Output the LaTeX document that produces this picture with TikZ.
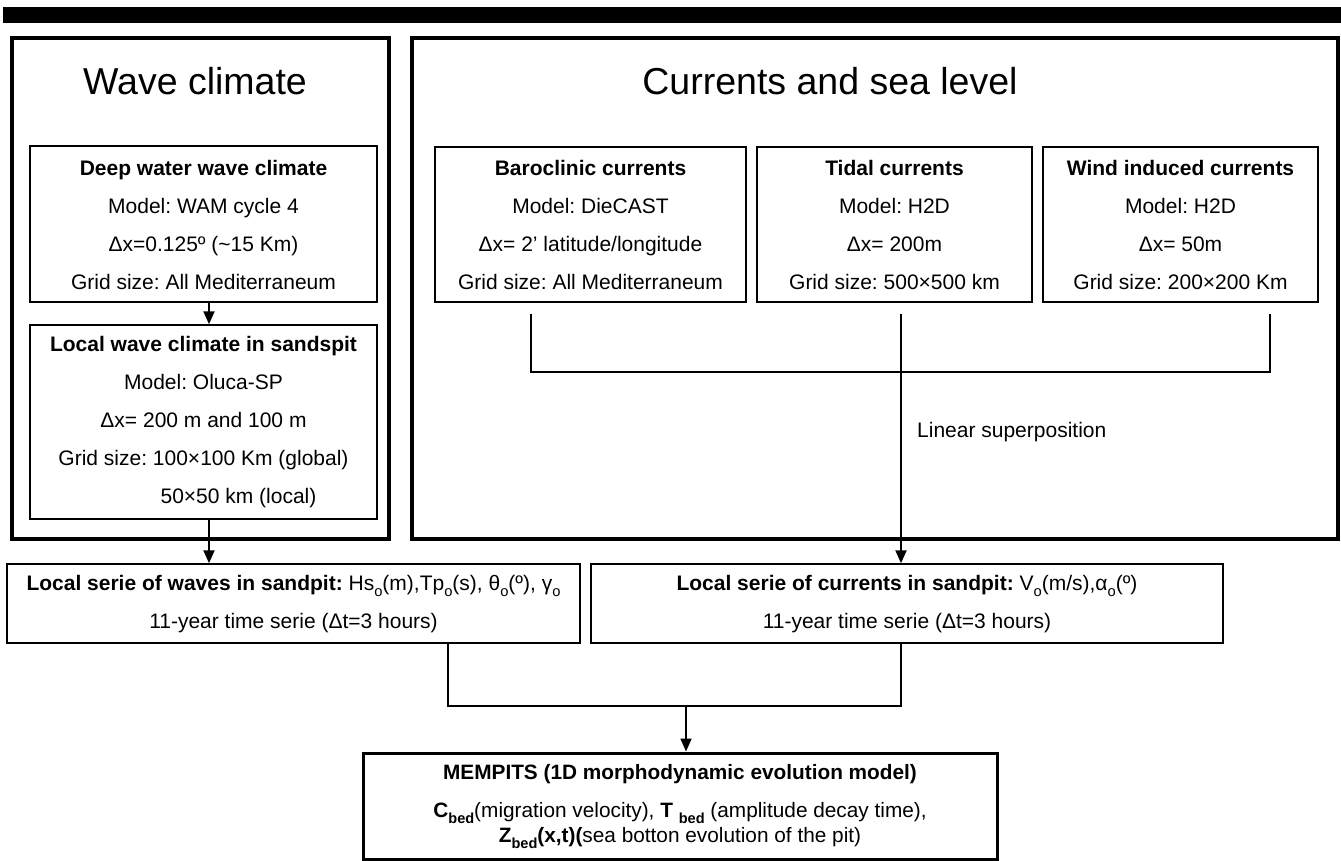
\documentclass[tikz,border=0pt]{standalone}
\usepackage{fontspec}
\setmainfont{Liberation Sans}
\usepackage{graphicx}
\usetikzlibrary{arrows.meta}
\newcommand\lsub[1]{\raisebox{-0.3em}{\scalebox{0.7}{#1}}}
\frenchspacing
\begin{document}
\begin{tikzpicture}[x=1pt,y=-1pt,
  outerbox/.style={draw, line width=4pt, inner sep=0pt},
  subbox/.style={draw, line width=1.5pt, inner sep=0pt},
  resbox/.style={draw, line width=3pt, inner sep=0pt},
  boxtxt/.style={inner sep=0pt, align=center, font={\fontsize{21}{38}\selectfont}},
  restxt/.style={inner sep=0pt, align=center, font={\fontsize{20.8}{25}\selectfont}},
  titletxt/.style={anchor=base, inner sep=0pt, font={\fontsize{37.5}{40}\selectfont}},
  lbl/.style={anchor=base west, inner sep=0pt, font={\fontsize{21}{25}\selectfont}},
  link/.style={line width=1.5pt},
  mainarr/.style={line width=2.2pt, -{Triangle[length=13pt,width=11pt]}},
  arr/.style={line width=1.8pt, -{Triangle[length=13pt,width=11pt]}}]
\useasboundingbox (0,0) rectangle (1341,861);
% top bar
\fill[black] (2.7,7) rectangle (1341,22.7);
% outer frames
\node[outerbox, minimum width=377pt, minimum height=501pt] (wframe) at (200.5,288.5) {};
\node[outerbox, minimum width=926pt, minimum height=501pt] (cframe) at (875,288.5) {};
\node[titletxt] (wtitle) at (195,95) {Wave climate};
\node[titletxt] (ctitle) at (830,95) {Currents and sea level};
% wave climate boxes
\node[subbox, minimum width=347pt, minimum height=156pt] (deep) at (203.5,224) {};
\node[boxtxt] (deepT) at ([yshift=-0.5pt]deep.center)
  {{\bfseries Deep water wave climate}\\ Model: WAM cycle 4\\ Δx=0.125º (\textasciitilde15 Km)\\ Grid size: All Mediterraneum};
\node[subbox, minimum width=347pt, minimum height=194pt] (local) at (203.5,422) {};
\node[boxtxt] (localT) at ([yshift=-0.5pt]local.center)
  {{\bfseries Local wave climate in sandspit}\\ Model: Oluca-SP\\ Δx= 200 m and 100 m\\ Grid size: 100×100 Km (global)\\ \hspace*{70pt}50×50 km (local)};
% currents boxes
\node[subbox, minimum width=311pt, minimum height=155pt] (baro) at (590.5,224.5) {};
\node[boxtxt] (baroT) at ([yshift=-0.5pt]baro.center)
  {{\bfseries Baroclinic currents}\\ Model: DieCAST\\ Δx= 2’ latitude/longitude\\ Grid size: All Mediterraneum};
\node[subbox, minimum width=275pt, minimum height=155pt] (tidal) at (894.5,224.5) {};
\node[boxtxt] (tidalT) at ([yshift=-0.5pt]tidal.center)
  {{\bfseries Tidal currents}\\ Model: H2D\\ Δx= 200m\\ Grid size: 500×500 km};
\node[subbox, minimum width=275pt, minimum height=155pt] (wind) at (1180.5,224.5) {};
\node[boxtxt] (windT) at ([yshift=-0.5pt]wind.center)
  {{\bfseries Wind induced currents}\\ Model: H2D\\ Δx= 50m\\ Grid size: 200×200 Km};
\node[lbl] (linsup) at (917,437) {Linear superposition};
% series
\node[subbox, minimum width=573pt, minimum height=79pt] (wserie) at (293.5,603.5) {};
\node[boxtxt] (wserieT) at ([yshift=-0.5pt]wserie.center)
  {{\bfseries Local serie of waves in sandpit:} Hs\lsub{o}(m),Tp\lsub{o}(s), θ\lsub{o}(º), γ\lsub{o}\\ 11-year time serie (Δt=3 hours)};
\node[subbox, minimum width=632pt, minimum height=79pt] (cserie) at (907,603.5) {};
\node[boxtxt] (cserieT) at ([yshift=-0.5pt]cserie.center)
  {{\bfseries Local serie of currents in sandpit:} V\lsub{o}(m/s),α\lsub{o}(º)\\ 11-year time serie (Δt=3 hours)};
% result
\node[resbox, minimum width=634pt, minimum height=106pt] (mem) at (680,806) {};
\node[restxt] (memT) at ([yshift=-0.5pt]mem.center)
  {{\bfseries MEMPITS (1D morphodynamic evolution model)}\\[13pt]
   {\bfseries C\lsub{bed}}(migration velocity), {\bfseries T \lsub{bed}} (amplitude decay time),\\
   {\bfseries Z\lsub{bed}(x,t)(}sea botton evolution of the pit)};
% connectors wave side
\draw[mainarr] ([xshift=5.5pt]deep.south) -- ([xshift=5.5pt]local.north);
\draw[mainarr] ([xshift=5.5pt]local.south) -- ([xshift=5.5pt]local.south |- wserie.north);
% currents bracket
\coordinate (jc) at (901,372);
\coordinate (bstart) at ([xshift=-59.5pt,yshift=-11pt]baro.south);
\coordinate (wstart) at ([xshift=89.5pt,yshift=-11pt]wind.south);
\coordinate (tstart) at ([xshift=6.5pt,yshift=-11pt]tidal.south);
\draw[link] (bstart) |- (jc) -| (wstart);
\draw[mainarr] (tstart) -- (tstart |- cserie.north);
% merge to MEMPITS
\coordinate (jm) at (686,706);
\coordinate (wsend) at ([xshift=154.5pt]wserie.south);
\coordinate (csend) at ([xshift=-6pt]cserie.south);
\draw[link] (wsend) |- (jm) -| (csend);
\draw[arr] (jm) -- (jm |- mem.north);
\end{tikzpicture}
\end{document}
